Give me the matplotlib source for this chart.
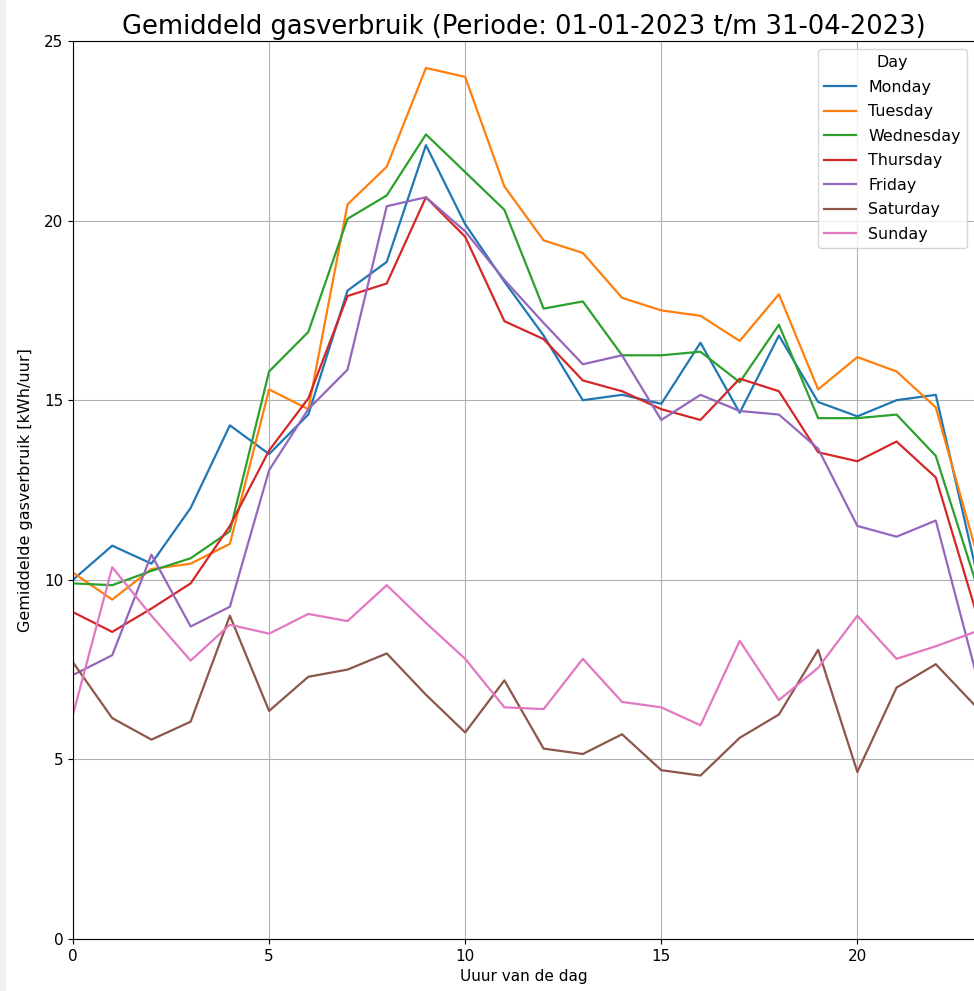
import numpy as np
import matplotlib.pyplot as plt
from matplotlib.patches import Rectangle

hours = list(range(24))
days = ["Monday", "Tuesday", "Wednesday", "Thursday", "Friday", "Saturday", "Sunday"]

monday = [10.0, 10.95, 10.45, 12.0, 14.3, 13.5, 14.6, 18.05, 18.85, 22.1, 19.9, 18.3,
          16.8, 15.0, 15.15, 14.9, 16.6, 14.65, 16.8, 14.95, 14.55, 15.0, 15.15, 10.4]
tuesday = [10.2, 9.45, 10.3, 10.45, 11.0, 15.3, 14.75, 20.45, 21.5, 24.25, 24.0, 20.95,
           19.45, 19.1, 17.85, 17.5, 17.35, 16.65, 17.95, 15.3, 16.2, 15.8, 14.8, 10.9]
wednesday = [9.9, 9.85, 10.25, 10.6, 11.35, 15.8, 16.9, 20.05, 20.7, 22.4, 21.35, 20.3,
             17.55, 17.75, 16.25, 16.25, 16.35, 15.5, 17.1, 14.5, 14.5, 14.6, 13.45, 10.0]
thursday = [9.1, 8.55, 9.2, 9.9, 11.5, 13.6, 15.05, 17.9, 18.25, 20.65, 19.55, 17.2,
            16.7, 15.55, 15.25, 14.75, 14.45, 15.6, 15.25, 13.55, 13.3, 13.85, 12.85, 9.2]
friday = [7.35, 7.9, 10.7, 8.7, 9.25, 13.05, 14.75, 15.85, 20.4, 20.65, 19.7, 18.35,
          17.15, 16.0, 16.25, 14.45, 15.15, 14.7, 14.6, 13.65, 11.5, 11.2, 11.65, 7.5]
saturday = [7.7, 6.15, 5.55, 6.05, 9.0, 6.35, 7.3, 7.5, 7.95, 6.8, 5.75, 7.2,
            5.3, 5.15, 5.7, 4.7, 4.55, 5.6, 6.25, 8.05, 4.65, 7.0, 7.65, 6.5]
sunday = [6.25, 10.35, 9.0, 7.75, 8.75, 8.5, 9.05, 8.85, 9.85, 8.8, 7.8, 6.45,
          6.4, 7.8, 6.6, 6.45, 5.95, 8.3, 6.65, 7.55, 9.0, 7.8, 8.15, 8.55]

series = [monday, tuesday, wednesday, thursday, friday, saturday, sunday]

plt.rcParams['font.size'] = 11

fig = plt.figure(figsize=(9.74, 9.91), dpi=100)
# light grey window edge on the left of the screenshot
fig.patches.append(Rectangle((0, 0), 6 / 974, 1, transform=fig.transFigure,
                             facecolor='#f0f0f0', edgecolor='none', zorder=-1))
ax = fig.add_axes([73 / 974, 52 / 991, 902 / 974, 898 / 991])

for day, values in zip(days, series):
    ax.plot(hours, values, label=day, linewidth=1.6)

ax.set_xlim(0, 23)
ax.set_ylim(0, 25)
ax.set_xticks([0, 5, 10, 15, 20])
ax.set_yticks([0, 5, 10, 15, 20, 25])
ax.grid(True)
ax.set_xlabel('Uuur van de dag')
ax.set_ylabel('Gemiddelde gasverbruik [kWh/uur]', fontsize=11.5, labelpad=8)
ax.set_title('Gemiddeld gasverbruik (Periode: 01-01-2023 t/m 31-04-2023)', fontsize=18.5, pad=5)
ax.legend(title='Day', loc='upper right', fontsize=11.4, title_fontsize=11.4,
          labelspacing=0.6, borderaxespad=0.5)

fig.savefig('out.png', dpi=100)
